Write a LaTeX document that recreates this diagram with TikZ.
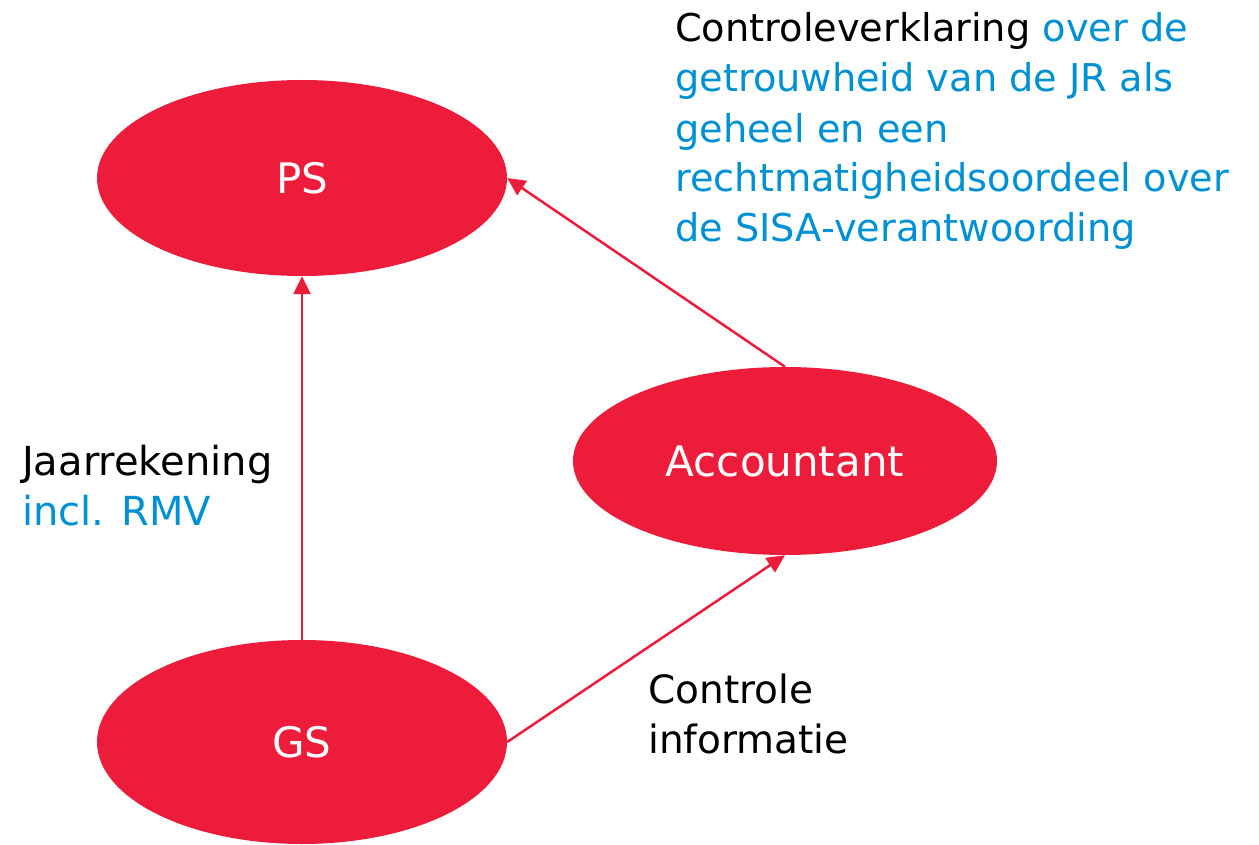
\documentclass[tikz,border=0pt]{standalone}
\usepackage{fontspec}
\setmainfont{DejaVu Sans}
\usetikzlibrary{shapes.geometric,arrows.meta}
\definecolor{rood}{RGB}{237,28,58}
\definecolor{blauw}{RGB}{0,145,212}
\tikzset{
  blob/.style={ellipse, fill=rood, draw=none, text=white, inner sep=0pt,
    font=\fontsize{42}{50}\selectfont},
  conn/.style={draw=rood, line width=2.5pt, -{Triangle[length=18pt,width=17pt]}},
  lbl/.style={anchor=base west, inner sep=0pt, align=left,
    font=\fontsize{40}{50}\selectfont}
}
\begin{document}
\begin{tikzpicture}[x=1pt,y=1pt]
\useasboundingbox (0,0) rectangle (1259,-845);
\node[blob, minimum width=410pt, minimum height=196pt] (ps) at (302,-178) {PS};
\node[blob, minimum width=424pt, minimum height=188pt] (acc) at (785,-461) {Accountant};
\node[blob, minimum width=410pt, minimum height=204pt] (gs) at (302,-742) {GS};
\draw[conn] (gs.north) -- (ps.south);
\draw[conn] (acc.north) -- (ps.east);
\draw[conn] (gs.east) -- (acc.south);
\node[lbl, font=\fontsize{38.3}{50}\selectfont] (t1) at (675,-242) {Controleverklaring \textcolor{blauw}{over de}\\
\textcolor{blauw}{getrouwheid van de JR als}\\
\textcolor{blauw}{geheel en een}\\
\textcolor{blauw}{rechtmatigheidsoordeel over}\\
\textcolor{blauw}{de SISA-verantwoording}};
\node[lbl] (t2) at (22,-525) {Jaarrekening\\ \textcolor{blauw}{incl. RMV}};
\node[lbl, font=\fontsize{39}{50}\selectfont] (t3) at (648,-753) {Controle\\ informatie};
\end{tikzpicture}
\end{document}
